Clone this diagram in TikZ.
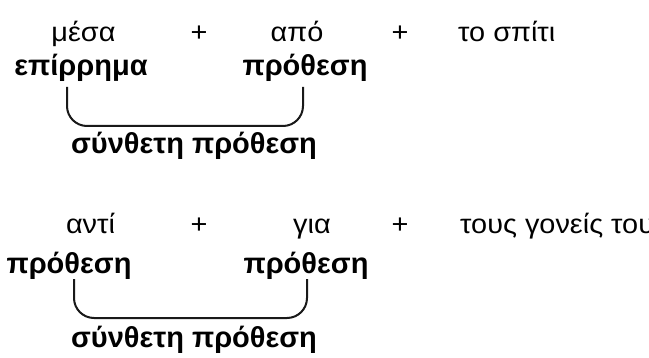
\documentclass[tikz,border=0pt]{standalone}
\usepackage{fontspec}
\setmainfont{Liberation Sans}
\newfontfamily\regfont[FakeStretch=1.07]{Liberation Sans}
\begin{document}
\begin{tikzpicture}[x=1pt,y=1pt,
  reg/.style={anchor=base,inner sep=0pt,font=\regfont\fontsize{27}{30}\selectfont},
  bld/.style={anchor=base,inner sep=0pt,font=\fontsize{29}{32}\selectfont\bfseries},
  brace/.style={line width=2pt,rounded corners=20pt,color=black!90}]
\useasboundingbox (0,0) rectangle (649,357);
\clip (0,0) rectangle (649,357);
% row 1
\node[reg] (m1) at (83.5,315) {μέσα};
\node[reg] (p1) at (199,315) {+};
\node[reg] (a1) at (297,315) {από};
\node[reg] (p2) at (400,315) {+};
\node[reg,anchor=base west] (s1) at (458,315) {το σπίτι};
\node[bld] (e1) at (81,281) {επίρρημα};
\node[bld] (r1) at (305,281) {πρόθεση};
\node[bld] (c1) at (194,204) {σύνθετη πρόθεση};
\coordinate (b1a) at (67,270);
\coordinate (b1b) at (303,270);
\coordinate (b1m) at (303,231);
\draw[brace] (b1a) |- (b1m) -- (b1b);
% row 2
\node[reg] (m2) at (90.5,124) {αντί};
\node[reg] (p3) at (199,124) {+};
\node[reg] (a2) at (312,124) {για};
\node[reg] (p4) at (400,124) {+};
\node[reg,anchor=base west] (s2) at (460,124) {τους γονείς του};
\node[bld] (e2) at (69,84) {πρόθεση};
\node[bld] (r2) at (306,84) {πρόθεση};
\node[bld] (c2) at (194,10) {σύνθετη πρόθεση};
\coordinate (b2a) at (74,78);
\coordinate (b2b) at (307,78);
\coordinate (b2m) at (307,39);
\draw[brace] (b2a) |- (b2m) -- (b2b);
\end{tikzpicture}
\end{document}
